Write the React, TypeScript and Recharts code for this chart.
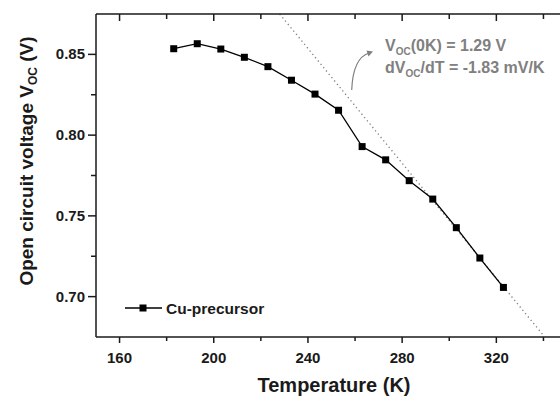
import { ComposedChart, Line, XAxis, YAxis } from 'recharts';

// measured Voc vs T (Cu-precursor sample)
const temps = [183, 193, 203, 213, 223, 233, 243, 253, 263, 273, 283, 293, 303, 313, 323];
const voc = [0.8535, 0.8566, 0.8533, 0.8482, 0.8424, 0.834, 0.8254, 0.8154, 0.7929, 0.7847, 0.7718, 0.7604, 0.7427, 0.7239, 0.7057];

// linear extrapolation (dotted), end points
const fitT = [228, 340];
const fitV = [0.875, 0.676];

const xTicks = [160, 180, 200, 220, 240, 260, 280, 300, 320, 340];
const xMajor = [160, 200, 240, 280, 320];
const yTicks = [0.7, 0.725, 0.75, 0.775, 0.8, 0.825, 0.85];
const yMajor = [0.7, 0.75, 0.8, 0.85];

const X_DOMAIN = [150, 350];
const Y_DOMAIN = [0.675, 0.875];

const INK = '#1a1a1a';
const GREY = '#808080';
const FONT = '"Liberation Sans", Arial, Helvetica, sans-serif';

// layout
const CHART_W = 580;
const CHART_H = 399;
const MARGIN = { top: 0, right: 13, left: 36, bottom: 32 };
const TOP_AXIS_H = 14;
const BOTTOM_AXIS_H = 30;
const Y_AXIS_W = 60;
const PLOT_LEFT = MARGIN.left + Y_AXIS_W;
const PLOT_TOP = MARGIN.top + TOP_AXIS_H;
const PLOT_W = CHART_W - MARGIN.left - MARGIN.right - Y_AXIS_W;
const tx = (t: number) => PLOT_LEFT + ((t - X_DOMAIN[0]) / (X_DOMAIN[1] - X_DOMAIN[0])) * PLOT_W;

const points = temps.map((t, i) => ({ T: t, V: voc[i] }));
const fit = fitT.map((t, i) => ({ T: t, V: fitV[i] }));

const isMajor = (list: number[], v: number) => list.some((m) => Math.abs(m - v) < 1e-6);

function BottomTick({ x, y, payload }: any) {
  const major = isMajor(xMajor, payload.value);
  return (
    <g>
      <line x1={x} y1={y} x2={x} y2={y + (major ? 6 : 4)} stroke={INK} strokeWidth={1.5} />
      {major && (
        <text x={x} y={y + 26} textAnchor="middle" fontFamily={FONT} fontWeight="bold" fontSize={15} fill={INK}>
          {payload.value}
        </text>
      )}
    </g>
  );
}

function LeftTick({ x, y, payload }: any) {
  const major = isMajor(yMajor, payload.value);
  return (
    <g>
      <line x1={x} y1={y} x2={x - (major ? 8 : 5)} y2={y} stroke={INK} strokeWidth={1.5} />
      {major && (
        <text x={x - 11} y={y + 5} textAnchor="end" fontFamily={FONT} fontWeight="bold" fontSize={15} fill={INK}>
          {payload.value.toFixed(2)}
        </text>
      )}
    </g>
  );
}

function SquareDot({ cx, cy, index }: any) {
  return <rect key={index} x={cx - 3.5} y={cy - 3.5} width={7} height={7} fill="#000" />;
}

export default function App() {
  return (
    <div style={{ position: 'fixed', left: 0, top: 0, width: 560, height: 399, overflow: 'hidden', background: '#fff' }}>
      <ComposedChart width={CHART_W} height={CHART_H} margin={MARGIN}>
        <XAxis
          dataKey="T"
          type="number"
          domain={X_DOMAIN}
          allowDataOverflow
          ticks={xTicks}
          interval={0}
          tickSize={0}
          tickMargin={0}
          tickLine={false}
          tick={BottomTick}
          height={BOTTOM_AXIS_H}
          axisLine={{ stroke: INK, strokeWidth: 1.5 }}
        />
        <XAxis
          xAxisId="top"
          orientation="top"
          dataKey="T"
          type="number"
          domain={X_DOMAIN}
          allowDataOverflow
          tick={false}
          tickLine={false}
          height={TOP_AXIS_H}
          axisLine={{ stroke: INK, strokeWidth: 1.5 }}
        />
        <YAxis
          dataKey="V"
          type="number"
          domain={Y_DOMAIN}
          allowDataOverflow
          ticks={yTicks}
          interval={0}
          tickSize={0}
          tickMargin={0}
          tickLine={false}
          tick={LeftTick}
          width={Y_AXIS_W}
          axisLine={{ stroke: INK, strokeWidth: 1.5 }}
        />
        <Line
          xAxisId="top"
          data={fit}
          dataKey="V"
          type="linear"
          stroke={GREY}
          strokeWidth={1.3}
          strokeDasharray="1.3 3"
          dot={false}
          isAnimationActive={false}
        />
        <Line
          data={points}
          dataKey="V"
          type="linear"
          stroke="#000"
          strokeWidth={1.3}
          dot={SquareDot}
          isAnimationActive={false}
        />
      </ComposedChart>
      <svg width={560} height={399} style={{ position: 'absolute', left: 0, top: 0, pointerEvents: 'none' }}>
        {/* inward ticks on the top frame */}
        {xTicks.map((t) => (
          <line
            key={t}
            x1={tx(t)}
            y1={PLOT_TOP}
            x2={tx(t)}
            y2={PLOT_TOP + (isMajor(xMajor, t) ? 7 : 5)}
            stroke={INK}
            strokeWidth={1.5}
          />
        ))}
        <g fontFamily={FONT} fontWeight="bold">
          <text x={334} y={392} textAnchor="middle" fontSize={20} fill={INK}>
            Temperature (K)
          </text>
          <text transform="rotate(-90)" x={-161} y={33} textAnchor="middle" fontSize={19} fill={INK}>
            Open circuit voltage V<tspan fontSize={12} dy={4}>OC</tspan>
            <tspan dy={-4}> (V)</tspan>
          </text>
          <g fill={GREY} fontSize={16}>
            <text x={385} y={51}>
              V<tspan fontSize={10} dy={4}>OC</tspan>
              <tspan dy={-4}>(0K) = 1.29 V</tspan>
            </text>
            <text x={385} y={73}>
              dV<tspan fontSize={10} dy={4}>OC</tspan>
              <tspan dy={-4}>/dT = -1.83 mV/K</tspan>
            </text>
          </g>
          <line x1={125} y1={308} x2={162} y2={308} stroke="#000" strokeWidth={1.3} />
          <rect x={139.5} y={304.5} width={7} height={7} fill="#000" />
          <text x={166} y={313.5} fontSize={15.5} fill={INK}>
            Cu-precursor
          </text>
        </g>
        <path d="M351.7,90 Q353,58 369,53" fill="none" stroke={GREY} strokeWidth={1.2} />
        <path d="M373,51.5 L366.5,50.5 L368.5,56.5 Z" fill={GREY} />
      </svg>
    </div>
  );
}
